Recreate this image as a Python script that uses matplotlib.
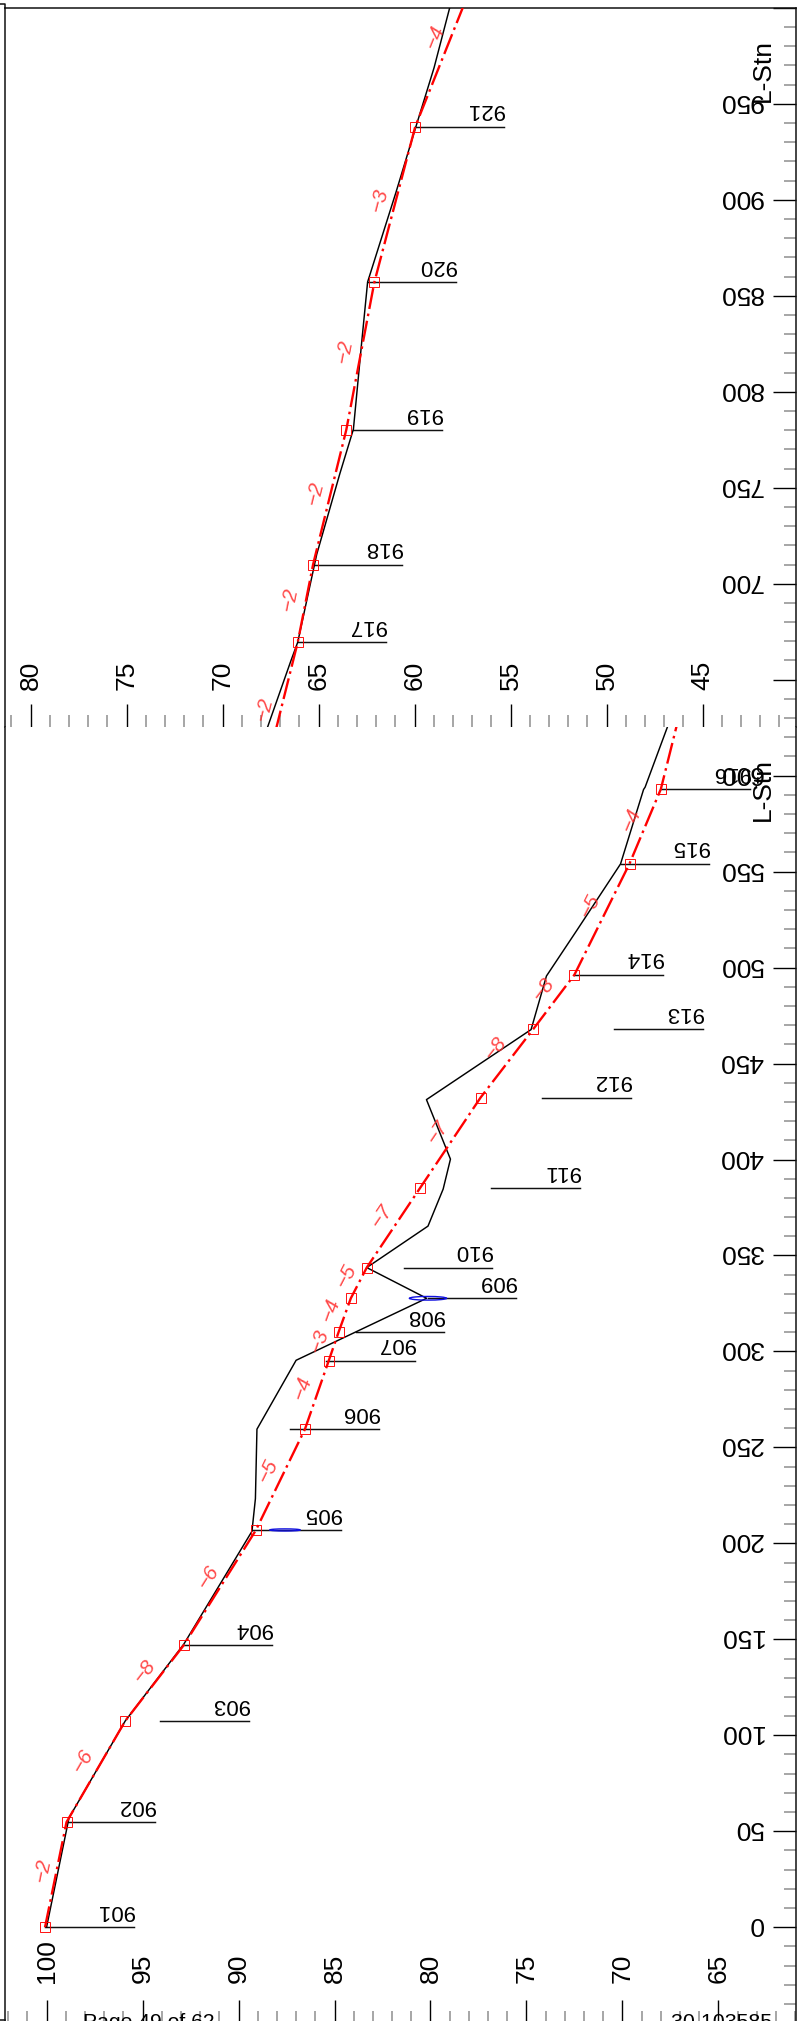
import numpy as np
import matplotlib
matplotlib.use("Agg")
import matplotlib.pyplot as plt
from matplotlib.lines import Line2D
from matplotlib.patches import Ellipse
from matplotlib.transforms import ScaledTranslation

plt.rcParams['font.family'] = ['Liberation Sans', 'DejaVu Sans']

# ground profile (station, elevation)
ground_sta = [0, 57, 107.5, 147.5, 206.3, 223.3, 259.5, 295.4, 327.7, 343.7, 365.3, 384.6,
              400.2, 431.2, 467.7, 495.6, 519.5, 554, 592.8, 594, 625.3, 660, 669.5, 715.3,
              757.2, 780.5, 824.6, 857.2, 903.7, 938.6, 968.8, 999.5, 1005]
ground_elev = [100.0, 98.83, 95.9, 92.85, 89.3, 89.12, 89.04, 87.0, 80.2, 83.32, 80.13, 79.34,
               78.96, 80.21, 74.76, 73.96, 72.37, 70.1, 68.9, 68.82, 67.66, 66.44, 66.09, 65.1,
               63.9, 63.19, 62.77, 62.45, 60.98, 59.92, 58.99, 58.19, 58.03]

# design line intersection points
ip_names = ['901', '902', '903', '904', '905', '906', '907', '908', '909', '910', '911',
            '912', '913', '914', '915', '916', '917', '918', '919', '920', '921']
ip_sta = [0, 54.75, 107.5, 147, 206.8, 259.5, 295.2, 310, 327.7, 343.7, 384.9,
          432.3, 467.9, 496.3, 554.2, 593, 669.5, 710, 780.2, 857, 938.1]
ip_elev = [100.08, 98.96, 95.9, 92.85, 89.1, 86.54, 85.3, 84.79, 84.15, 83.32, 80.56,
           77.39, 74.65, 72.5, 69.63, 68.0, 66.09, 65.29, 63.56, 62.1, 59.97]
tail_sta = [1005]
tail_elev = [57.3]

# callout lines: elevation of the near end of each line
callout_elev = [100.08, 98.96, 94.1, 92.85, 89.3, 87.3, 85.45, 83.9, 80.15, 81.4, 76.85,
                74.2, 70.45, 72.5, 70.1, 68.0, 66.09, 65.29, 63.19, 62.45, 59.97]
callout_len = 4.62

# grade labels
grade_sta = [29.9, 86.4, 133.5, 182.6, 238, 281, 305.6, 321.9, 339.3, 370.7, 414.2, 457.9,
             488.6, 532.3, 577, 634.7, 692, 747, 821, 900, 985]
grade_elev = [100.2, 98.09, 94.89, 91.57, 88.46, 86.68, 85.8, 85.19, 84.39, 82.55, 79.6, 76.62,
              74.1, 71.7, 69.52, 67.82, 66.49, 65.19, 63.64, 61.83, 58.96]
grade_text = ['-2', '-6', '-8', '-6', '-5', '-4', '-3', '-4', '-5', '-7', '-7', '-8',
              '-8', '-5', '-4', '-2', '-2', '-2', '-2', '-3', '-4']

# blue ellipses: station, elevation, width, height
ell_sta = [207, 327.7]
ell_elev = [87.58, 80.13]
ell_w = [1.6, 1.94]
ell_h = [1.1, 1.9]

bottom_major_x = [100, 95, 90, 85, 80, 75, 70, 65]
top_major_x = [80, 75, 70, 65, 60, 55, 50, 45]
bottom_major_y = [-50, 0, 50, 100, 150, 200, 250, 300, 350, 400, 450, 500, 550, 600]
bottom_ylabels = ['', '0', '50', '100', '150', '200', '250', '300', '350', '400', '450', '500', '550', '600']
top_major_y = [650, 700, 750, 800, 850, 900, 950, 1000]
top_ylabels = ['', '700', '750', '800', '850', '900', '950', '']

W, H = 801, 2021
DPI = 100
fig = plt.figure(figsize=(W / DPI, H / DPI), dpi=DPI, facecolor='white')


def axes_px(left, right, top, bottom):
    return fig.add_axes([left / W, 1 - bottom / H, (right - left) / W, (bottom - top) / H])


ax_top = axes_px(4.7, 796, 7.9, 727)
ax_bot = axes_px(4.7, 796, 727, 2023.2)
ax_top.set_xlim(81.35, 40.14)
ax_top.set_ylim(625.35, 1000)
ax_bot.set_xlim(102.18, 60.96)
ax_bot.set_ylim(-50, 625.35)

RED = '#ff0000'
BLACK = '#000000'
GRAY = '#8e8e8e'


def style(ax, major_x, major_y, ylabels, minor_x, minor_y, xpad, label_y):
    ax.set_xticks(major_x)
    ax.set_xticks(minor_x, minor=True)
    ax.set_yticks(major_y, labels=ylabels)
    ax.set_yticks(minor_y, minor=True)
    ax.xaxis.tick_bottom()
    ax.yaxis.tick_right()
    ax.tick_params(axis='x', which='major', direction='in', length=16.6, width=1.0, color=BLACK,
                   pad=xpad, labelsize=19, labelrotation=90)
    ax.tick_params(axis='y', which='major', direction='in', length=16.6, width=1.0, color=BLACK,
                   pad=-23.8, labelsize=19, labelrotation=180)
    ax.tick_params(which='minor', direction='in', length=8.6, width=1.1, color=GRAY)
    for lab in ax.get_xticklabels():
        lab.set_va('bottom')
        lab.set_ha('center')
    nudge = ScaledTranslation(0, 3.0 / DPI, fig.dpi_scale_trans)
    for lab in ax.get_yticklabels():
        lab.set_ha('right')
        lab.set_va('center')
        lab.set_transform(lab.get_transform() + nudge)
    ax.yaxis.set_label_position('right')
    ax.set_ylabel('L-Stn', fontsize=19, rotation=90)
    ax.yaxis.set_label_coords(0.9585, label_y)
    ax.yaxis.label.set_va('center')
    ax.yaxis.label.set_ha('center')
    for s in ax.spines.values():
        s.set_linewidth(1.1)
        s.set_color('#111111')


style(ax_top, top_major_x, top_major_y, top_ylabels,
      [x for x in range(41, 82) if x % 5], [s for s in range(630, 1000, 10) if s % 50],
      -26.6, 0.9136)
style(ax_bot, bottom_major_x, bottom_major_y, bottom_ylabels,
      [x for x in range(61, 103) if x % 5], [s for s in range(-40, 625, 10) if s % 50],
      -29, 0.952)
ax_top.spines['bottom'].set_visible(False)
ax_bot.spines['top'].set_visible(False)
ax_bot.spines['bottom'].set_visible(False)

design_sta = np.r_[ip_sta, tail_sta]
design_elev = np.r_[ip_elev, tail_elev]

for ax in (ax_top, ax_bot):
    ax.plot(ground_elev, ground_sta, color=BLACK, lw=1.05, zorder=3)
    ax.plot(design_elev, design_sta, color=RED, lw=1.7, zorder=4,
            linestyle=(0, (9, 2.0, 1.1, 2.0)))
    ax.plot(ip_elev, ip_sta, linestyle='none', marker='s', ms=6.8, mfc='none', mec=RED, mew=0.65, zorder=5)
    lo, hi = ax.get_ylim()
    for w, h, s, e in zip(ell_w, ell_h, ell_sta, ell_elev):
        if lo < s < hi:
            ax.add_patch(Ellipse((e, s), w, h, fill=False, ec='#1010e0', lw=1.0, zorder=6))
    for name, s, e in zip(ip_names, ip_sta, callout_elev):
        if lo < s < hi:
            ax.plot([e, e - callout_len], [s, s], color='#111111', lw=1.05, zorder=2)
            ax.annotate(name, xy=(e - callout_len, s), xytext=(0, 4.5), textcoords='offset points',
                        rotation=180, ha='right', va='bottom', fontsize=16, color=BLACK)
    for s, e, t in zip(grade_sta, grade_elev, grade_text):
        if lo < s < hi:
            i = int(np.clip(np.searchsorted(design_sta, s) - 1, 0, len(design_sta) - 2))
            p0 = ax.transData.transform((design_elev[i], design_sta[i]))
            p1 = ax.transData.transform((design_elev[i + 1], design_sta[i + 1]))
            ang = np.degrees(np.arctan2(p1[1] - p0[1], p1[0] - p0[0]))
            ax.text(e, s, t.replace('-', '\u2212'), color='#ff2a2a', fontsize=15, style='italic', rotation=ang,
                    rotation_mode='anchor', ha='center', va='center', zorder=5, alpha=0.85)

# outer page frame stubs
fig.add_artist(Line2D([0, 4.7 / W, 4.7 / W], [1 - 4 / H, 1 - 4 / H, 1 - 8 / H],
                      transform=fig.transFigure, color='#111111', lw=1.1))
fig.add_artist(Line2D([0, 4.7 / W], [1 - 2020 / H, 1 - 2020 / H],
                      transform=fig.transFigure, color='#111111', lw=1.1))

# footer text
fig.text(83 / W, 1 - 2013 / H, 'Page 49 of 62', fontsize=15.2, va='top', ha='left', color=BLACK)
fig.text(671 / W, 1 - 2013 / H, '30 103585', fontsize=15.4, va='top', ha='left', color=BLACK)

fig.savefig('out.png', dpi=DPI)
